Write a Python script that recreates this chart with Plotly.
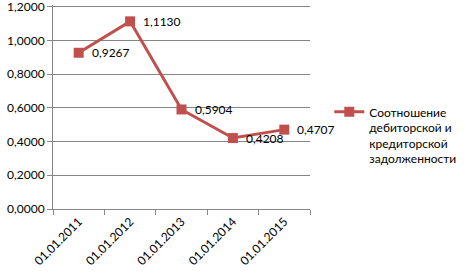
import plotly.graph_objects as go

categories = ["01.01.2011", "01.01.2012", "01.01.2013", "01.01.2014", "01.01.2015"]
values = [0.9267, 1.1130, 0.5904, 0.4208, 0.4707]
labels = ["0,9267", "1,1130", "0,5904", "0,4208", "0,4707"]
series_name = "Соотношение<br>дебиторской и<br>кредиторской<br>задолженности"

color = "#C0504D"
grid = "#868686"
font = "Lato"

fig = go.Figure()
fig.add_trace(go.Scatter(
    x=categories, y=values, mode="lines+markers",
    name=series_name,
    line=dict(color=color, width=3),
    marker=dict(symbol="square", size=10, color=color),
    cliponaxis=False,
))
for c, v, t in zip(categories, values, labels):
    fig.add_annotation(x=c, y=v, text=t, showarrow=False,
                       xanchor="left", yanchor="middle", xshift=11,
                       font=dict(family=font, size=12, color="#000000"))

fig.update_layout(
    width=466, height=274,
    margin=dict(l=53, r=143, t=5, b=65),
    paper_bgcolor="white", plot_bgcolor="white",
    font=dict(family=font, size=12, color="#000000"),
    separators=", ",
    showlegend=True,
    legend=dict(x=1.075, y=0.36, xanchor="left", yanchor="middle",
                valign="top", font=dict(family=font, size=12, color="#000000"),
                tracegroupgap=0),
)
fig.update_yaxes(range=[0, 1.21], tickvals=[0, 0.2, 0.4, 0.6, 0.8, 1.0, 1.2],
                 tickformat=".4f", ticklabeloverflow="allow", automargin=False,
                 showgrid=True, gridcolor=grid, gridwidth=1,
                 showline=True, linecolor=grid, linewidth=1,
                 ticks="outside", ticklen=5, tickcolor=grid,
                 zeroline=False, fixedrange=True)
fig.update_xaxes(type="category", tickangle=-45, tickson="boundaries", automargin=False,
                 showgrid=False, showline=True, linecolor=grid, linewidth=1,
                 ticks="outside", ticklen=5, tickcolor=grid,
                 range=[-0.5, 4.5], fixedrange=True)

fig.write_html("out.html")
